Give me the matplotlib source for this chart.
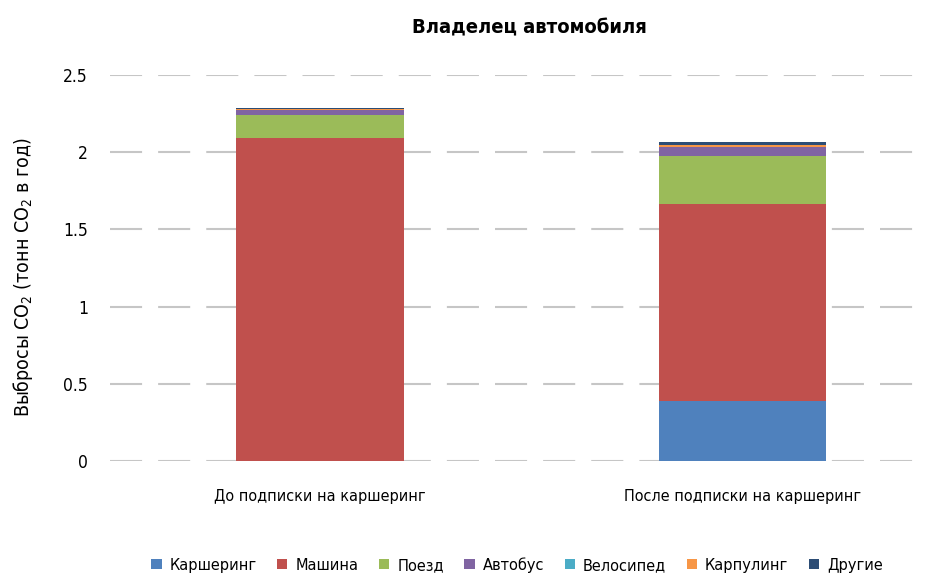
import matplotlib.pyplot as plt
import numpy as np

plt.rcParams['font.family'] = ['DejaVu Sans']
plt.rcParams['font.stretch'] = 'condensed'
plt.rcParams['mathtext.default'] = 'regular'

categories = ["До подписки на каршеринг", "После подписки на каршеринг"]
series_names = ["Каршеринг", "Машина", "Поезд", "Автобус", "Велосипед", "Карпулинг", "Другие"]
carsharing = [0.0, 0.389]
car = [2.094, 1.276]
train = [0.147, 0.31]
bus = [0.032, 0.058]
bike = [0.0, 0.003]
carpool = [0.004, 0.013]
other = [0.009, 0.015]
colors = ["#4F81BD", "#C0504D", "#9BBB59", "#8064A2", "#4BACC6", "#F79646", "#2C4D75"]


def main() -> None:
    fig = plt.figure(figsize=(9.27, 5.76), dpi=100)
    ax = fig.add_axes([110 / 927, 115 / 576, 817 / 927, 386 / 576])

    x = np.arange(len(categories))
    bottom = np.zeros(len(categories))
    for name, vals, color in zip(series_names,
                                 [carsharing, car, train, bus, bike, carpool, other],
                                 colors):
        ax.bar(x, vals, width=0.396, bottom=bottom, color=color, label=name, zorder=3)
        bottom += np.array(vals)

    ax.set_xlim(-0.4976, 1.438)
    ax.set_ylim(0, 2.5)
    ax.set_yticks([0, 0.5, 1, 1.5, 2, 2.5])
    ax.set_yticklabels(["0", "0.5", "1", "1.5", "2", "2.5"], fontsize=12.5)
    ax.set_xticks(x)
    ax.set_xticklabels(categories, fontsize=11.6)
    ax.tick_params(length=0, pad=20)
    ax.tick_params(axis="y", pad=16)
    ax.grid(axis="y", color="#C6C6C6", linestyle=(0, (15.4, 7.7)), linewidth=1.5, zorder=0)
    for s in ax.spines.values():
        s.set_visible(False)

    # Y label and title placed by hand to match the reference
    fig.text(23 / 927, 1 - 277.5 / 576, "Выбросы CO$_2$ (тонн CO$_2$ в год)",
             rotation=90, ha="center", va="center", fontsize=14)
    fig.text(529.5 / 927, 1 - 28 / 576, "Владелец автомобиля",
             ha="center", va="center", fontsize=14.5, fontweight="bold")

    fig.legend(loc="center", ncol=7, frameon=False, fontsize=11.7,
               bbox_to_anchor=(517 / 927, 1 - 565 / 576), handlelength=0.64,
               handleheight=0.64, handletextpad=0.5, columnspacing=1.25)

    fig.savefig("out.png", dpi=100)
    plt.close(fig)


if __name__ == "__main__":
    main()
